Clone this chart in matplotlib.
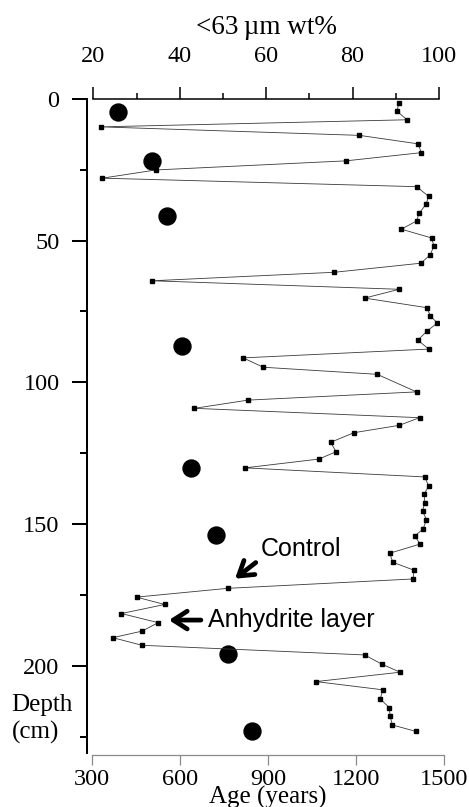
import matplotlib
matplotlib.use("Agg")
import matplotlib.pyplot as plt
from matplotlib.ticker import MultipleLocator, FixedLocator

# ---------------- data ----------------
wt_pct = [90.7, 90.3, 92.6, 21.7, 81.6, 95.2, 95.9, 78.4, 34.5, 22.1,
          94.8, 97.6, 97.0, 95.4, 94.8, 91.3, 98.3, 98.8, 98.0, 95.8,
          75.8, 33.6, 90.8, 82.8, 97.2, 98.0, 99.6, 97.2, 95.1, 97.6,
          54.7, 59.3, 85.7, 94.8, 55.8, 43.4, 95.5, 90.8, 80.3, 74.9,
          76.2, 72.2, 55.1, 96.7, 97.6, 96.6, 96.7, 96.2, 97.1, 96.3,
          94.4, 95.6, 88.6, 89.3, 94.2, 94.0, 51.1, 30.0, 36.5, 26.5,
          35.0, 31.3, 24.5, 31.3, 82.8, 86.7, 91.0, 71.5, 87.0, 86.4,
          88.5, 88.7, 89.2, 94.7]
wt_depth = [1.4, 4.4, 7.4, 9.9, 12.9, 15.9, 19.0, 21.9, 25.1, 28.0,
            31.0, 34.4, 37.2, 40.4, 43.1, 46.0, 49.1, 51.9, 55.0, 58.0,
            61.2, 64.2, 67.2, 70.3, 73.7, 76.6, 79.1, 82.0, 85.1, 88.3,
            91.4, 94.7, 97.2, 103.4, 106.3, 109.2, 112.5, 115.2, 117.8, 121.2,
            124.5, 127.1, 130.2, 133.4, 136.6, 139.4, 142.5, 145.4, 148.5, 151.8,
            154.2, 157.1, 160.3, 163.5, 166.3, 169.4, 172.7, 175.8, 178.4, 181.6,
            184.8, 187.8, 190.1, 192.8, 196.2, 199.4, 202.3, 205.6, 208.5, 211.7,
            214.8, 217.8, 220.9, 223.2]

age_years = [389, 505, 556, 605, 637, 721, 763, 846]
age_depth = [4.8, 21.8, 41.3, 87.2, 130.1, 153.8, 195.9, 223.2]

wt_ticks = [20, 40, 60, 80, 100]
age_ticks = [300, 600, 900, 1200, 1500]
depth_ticks = [0, 50, 100, 150, 200]
depth_minor = [25, 75, 125, 175, 225]

# ---------------- figure ----------------
plt.rcParams["font.family"] = ["Liberation Serif", "DejaVu Serif"]
W, H = 469, 807
fig = plt.figure(figsize=(W / 100, H / 100), dpi=100)


def rect(x0, x1, ytop, ybot):
    return [x0 / W, 1 - ybot / H, (x1 - x0) / W, (ybot - ytop) / H]


DMAX = 230.9
ax_age = fig.add_axes(rect(92.3, 444, 98.8, 753.3))
ax_wt = fig.add_axes(rect(93.3, 439, 98.8, 753.3))

# ---- age axis (bottom) ----
ax_age.set_xlim(300, 1500)
ax_age.set_ylim(DMAX, 0)
for s in ["top", "left", "right"]:
    ax_age.spines[s].set_visible(False)
ax_age.spines["bottom"].set_color("#8c8c8c")
ax_age.spines["bottom"].set_linewidth(0.9)
ax_age.spines["bottom"].set_position(("outward", 1.2))
ax_age.set_xticks(age_ticks)
ax_age.set_yticks([])
ax_age.tick_params(axis="x", direction="out", length=7, width=0.9,
                   color="#8c8c8c", labelcolor="black", labelsize=17.5, pad=3)
ax_age.set_xlabel("Age (years)", fontsize=18, labelpad=-2.5)
ax_age.plot(age_years, age_depth, linestyle="none", marker="o",
            markersize=12.2, color="black", zorder=2)

# ---- wt% axis (top) ----
ax_wt.patch.set_visible(False)
ax_wt.set_xlim(20, 100)
ax_wt.set_ylim(DMAX, 0)
ax_wt.spines["bottom"].set_visible(False)
ax_wt.spines["right"].set_visible(False)
ax_wt.spines["top"].set_linewidth(1.1)
ax_wt.spines["left"].set_linewidth(1.45)
ax_wt.spines["left"].set_position(("outward", 4.75))
ax_wt.xaxis.tick_top()
ax_wt.xaxis.set_label_position("top")
ax_wt.set_xticks(wt_ticks)
ax_wt.xaxis.set_minor_locator(MultipleLocator(10))
ax_wt.tick_params(axis="x", which="major", direction="out", length=8.6,
                  width=1.1, labelsize=17.5, pad=14.2)
ax_wt.tick_params(axis="x", which="minor", direction="out", length=4.3,
                  width=1.1)
ax_wt.set_yticks(depth_ticks)
ax_wt.yaxis.set_minor_locator(FixedLocator(depth_minor))
ax_wt.tick_params(axis="y", which="major", direction="out", length=10.5,
                  width=1.45, labelsize=17.5, pad=9)
ax_wt.tick_params(axis="y", which="minor", direction="out", length=5.3,
                  width=1.45)
ax_wt.set_xlabel("<63\u2009\u00b5m wt%", fontsize=19.5, labelpad=9)

ax_wt.set_ylabel("Depth\n(cm)", rotation=0, fontsize=18, ha="left",
                 va="center", linespacing=1.3)
ax_wt.yaxis.set_label_coords(-0.236, 0.0528)

ax_wt.plot(wt_pct, wt_depth, color="#3a3a3a", linewidth=0.6, marker="s",
           markersize=3.3, markerfacecolor="black", markeredgecolor="black",
           zorder=3)

# ---- annotations ----
arrow = dict(arrowstyle="->,head_length=0.5,head_width=0.32", lw=3.4,
             color="black", mutation_scale=20, shrinkA=0, shrinkB=0)
ax_wt.annotate("", xy=(52.8, 169.3), xytext=(57.6, 163.6), arrowprops=arrow)
ax_wt.text(58.7, 158.8, "Control", family=["Liberation Sans", "DejaVu Sans"],
           fontsize=18, ha="left", va="center")
ax_wt.annotate("", xy=(37.5, 183.9), xytext=(44.9, 183.9), arrowprops=arrow)
ax_wt.text(46.5, 183.9, "Anhydrite layer",
           family=["Liberation Sans", "DejaVu Sans"],
           fontsize=18, ha="left", va="center")

fig.savefig("out.png", dpi=100)
